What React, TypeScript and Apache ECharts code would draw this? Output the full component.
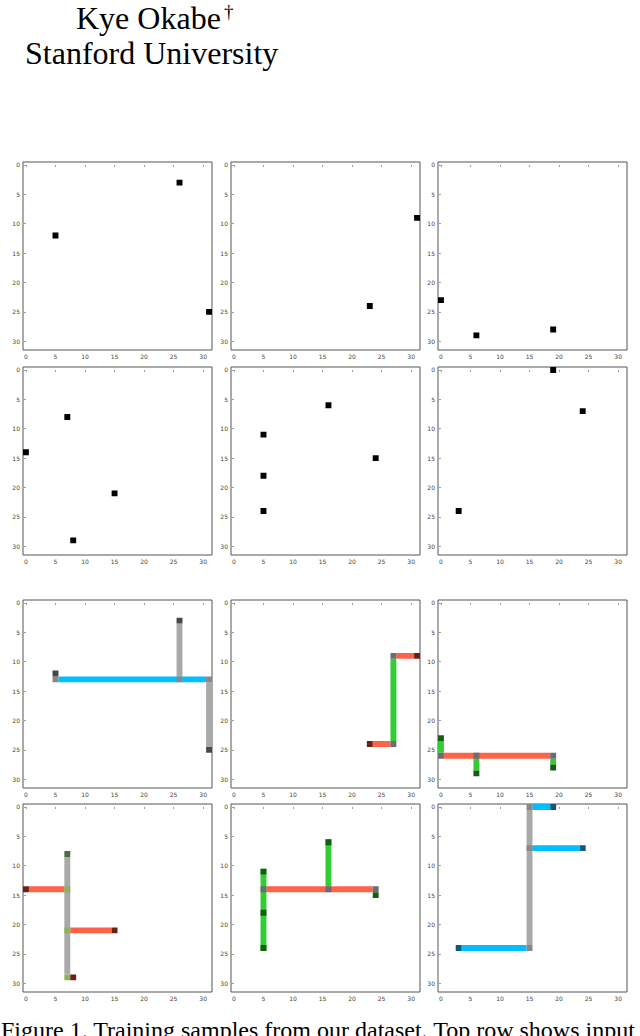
import React, { useEffect, useRef } from "react";
import * as echarts from "echarts";

const TICKS = [0, 5, 10, 15, 20, 25, 30];
const AXIS_MIN = -0.5;
const AXIS_MAX = 31.5;

// Inputs (top two rows): terminal cells [x, y]
const input1 = [[5, 12], [26, 3], [31, 25]];
const input2 = [[31, 9], [23, 24]];
const input3 = [[0, 23], [6, 29], [19, 28]];
const input4 = [[0, 14], [7, 8], [15, 21], [8, 29]];
const input5 = [[5, 11], [16, 6], [24, 15], [5, 18], [5, 24]];
const input6 = [[19, 0], [24, 7], [3, 24]];

// Routed outputs (bottom two rows): cell runs [x1, y1, x2, y2, kind]
const route1: [number, number, number, number, string][] = [
  [26, 4, 26, 12, "grayWire"],
  [31, 14, 31, 24, "grayWire"],
  [6, 13, 30, 13, "cyanWire"],
  [5, 13, 5, 13, "grayJoint"],
  [26, 13, 26, 13, "grayJoint"],
  [31, 13, 31, 13, "grayJoint"],
  [5, 12, 5, 12, "grayEnd"],
  [26, 3, 26, 3, "grayEnd"],
  [31, 25, 31, 25, "grayEnd"],
];
const route2: [number, number, number, number, string][] = [
  [24, 24, 26, 24, "redWire"],
  [28, 9, 30, 9, "redWire"],
  [27, 10, 27, 23, "greenWire"],
  [27, 24, 27, 24, "slateJoint"],
  [27, 9, 27, 9, "slateJoint"],
  [23, 24, 23, 24, "redEnd"],
  [31, 9, 31, 9, "redEnd"],
];
const route3: [number, number, number, number, string][] = [
  [1, 26, 18, 26, "redWire"],
  [0, 24, 0, 25, "greenWire"],
  [6, 27, 6, 28, "greenWire"],
  [19, 27, 19, 27, "greenWire"],
  [0, 26, 0, 26, "slateJoint"],
  [6, 26, 6, 26, "slateJoint"],
  [19, 26, 19, 26, "slateJoint"],
  [0, 23, 0, 23, "greenEnd"],
  [6, 29, 6, 29, "greenEnd"],
  [19, 28, 19, 28, "greenEnd"],
];
const route4: [number, number, number, number, string][] = [
  [7, 9, 7, 28, "grayWire"],
  [1, 14, 6, 14, "redWire"],
  [8, 21, 14, 21, "redWire"],
  [7, 14, 7, 14, "oliveJoint"],
  [7, 21, 7, 21, "oliveJoint"],
  [7, 29, 7, 29, "oliveJoint"],
  [7, 8, 7, 8, "oliveEnd"],
  [0, 14, 0, 14, "redEnd"],
  [15, 21, 15, 21, "redEnd"],
  [8, 29, 8, 29, "redEnd"],
];
const route5: [number, number, number, number, string][] = [
  [6, 14, 23, 14, "redWire"],
  [5, 11, 5, 24, "greenWire"],
  [16, 6, 16, 13, "greenWire"],
  [5, 14, 5, 14, "slateJoint"],
  [16, 14, 16, 14, "slateJoint"],
  [24, 14, 24, 14, "slateJoint"],
  [5, 11, 5, 11, "greenEnd"],
  [5, 18, 5, 18, "greenEnd"],
  [5, 24, 5, 24, "greenEnd"],
  [16, 6, 16, 6, "greenEnd"],
  [24, 15, 24, 15, "greenEnd"],
];
const route6: [number, number, number, number, string][] = [
  [15, 1, 15, 23, "grayWire"],
  [16, 0, 18, 0, "cyanWire"],
  [16, 7, 23, 7, "cyanWire"],
  [4, 24, 14, 24, "cyanWire"],
  [15, 0, 15, 0, "grayJoint"],
  [15, 7, 15, 7, "grayJoint"],
  [15, 24, 15, 24, "grayJoint"],
  [19, 0, 19, 0, "cyanEnd"],
  [24, 7, 24, 7, "cyanEnd"],
  [3, 24, 3, 24, "cyanEnd"],
];

const KIND_COLORS: Record<string, string> = {
  input: "#000000",
  grayWire: "#a9a9a9",
  grayJoint: "#888888",
  grayEnd: "#484848",
  cyanWire: "#00bfff",
  cyanEnd: "#0e5878",
  redWire: "#ff6347",
  redEnd: "#6b2216",
  greenWire: "#32cd32",
  greenEnd: "#135e13",
  slateJoint: "#6c6c72",
  oliveJoint: "#8db35a",
  oliveEnd: "#4b6e40",
};

const COL_LEFT = [23, 231, 438];
const ROW_TOP = [162, 367, 600, 804];
const PANEL_W = 189;
const PANEL_H = 188;

export default function App() {
  const ref = useRef<HTMLDivElement>(null);

  useEffect(() => {
    if (!ref.current) return;
    const chart = echarts.init(ref.current, null, { renderer: "svg" });

    const inputs = [input1, input2, input3, input4, input5, input6];
    const routes = [route1, route2, route3, route4, route5, route6];
    const panels: [number, number, number, number, string][][] = [
      ...inputs.map((pts) =>
        pts.map((p) => [p[0], p[1], p[0], p[1], "input"] as [number, number, number, number, string])
      ),
      ...routes,
    ];

    const grids: any[] = [];
    const xAxes: any[] = [];
    const yAxes: any[] = [];
    const series: any[] = [];

    panels.forEach((cells, i) => {
      const row = Math.floor(i / 3);
      const col = i % 3;
      grids.push({
        left: COL_LEFT[col],
        top: ROW_TOP[row],
        width: PANEL_W,
        height: PANEL_H,
        show: true,
        borderColor: "#555",
        borderWidth: 1,
        backgroundColor: "#fff",
      });
      const common = {
        gridIndex: i,
        type: "value",
        min: AXIS_MIN,
        max: AXIS_MAX,
        axisLine: { show: false },
        splitLine: { show: false },
        axisTick: {
          show: true,
          length: 2,
          customValues: TICKS,
          lineStyle: { color: "#555", width: 0.6 },
        },
        axisLabel: {
          customValues: TICKS,
          fontSize: 6,
          color: "#444",
          margin: 3,
          fontFamily: "DejaVu Sans",
        },
      };
      xAxes.push({ ...common });
      yAxes.push({ ...common, inverse: true });
      series.push({
        type: "custom",
        xAxisIndex: i,
        yAxisIndex: i,
        data: cells.map((c) => [c[0], c[1], c[2], c[3]]),
        renderItem: (params: any, api: any) => {
          const c = cells[params.dataIndex];
          const a = api.coord([api.value(0) - 0.5, api.value(1) - 0.5]);
          const b = api.coord([api.value(2) + 0.5, api.value(3) + 0.5]);
          return {
            type: "rect",
            shape: {
              x: Math.min(a[0], b[0]),
              y: Math.min(a[1], b[1]),
              width: Math.abs(b[0] - a[0]),
              height: Math.abs(b[1] - a[1]),
            },
            style: { fill: KIND_COLORS[c[4]] },
          };
        },
      });
    });

    chart.setOption({
      animation: false,
      backgroundColor: "#fff",
      grid: grids,
      xAxis: xAxes,
      yAxis: yAxes,
      series,
      graphic: [
        {
          type: "text",
          left: 76,
          top: 2,
          style: {
            text: "Kye Okabe",
            font: "32px 'Liberation Serif'",
            fill: "#000",
          },
        },
        {
          type: "text",
          left: 224,
          top: 2,
          style: {
            text: "†",
            font: "19px 'Liberation Serif'",
            fill: "#000",
          },
        },
        {
          type: "text",
          left: 25,
          top: 37,
          style: {
            text: "Stanford University",
            font: "32px 'Liberation Serif'",
            fill: "#000",
          },
        },
        {
          type: "text",
          left: 1,
          top: 1018,
          style: {
            text: "Figure 1. Training samples from our dataset. Top row shows input",
            font: "24px 'Liberation Serif'",
            fill: "#000",
          },
        },
      ],
    });

    return () => chart.dispose();
  }, []);

  return (
    <div
      ref={ref}
      style={{ position: "absolute", left: 0, top: 0, width: 640, height: 1036 }}
    />
  );
}
